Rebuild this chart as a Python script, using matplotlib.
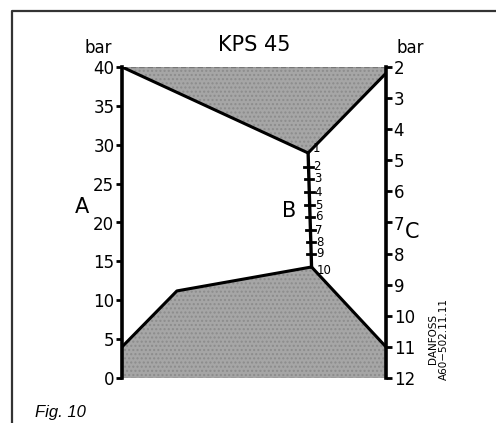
import numpy as np
import matplotlib
matplotlib.use('Agg')
import matplotlib.pyplot as plt
from matplotlib.lines import Line2D

# Scale A (left, bar) and C (right, bar)
a_ticks = [0, 5, 10, 15, 20, 25, 30, 35, 40]
c_ticks = [2, 3, 4, 5, 6, 7, 8, 9, 10, 11, 12]
b_vals = [1, 2, 3, 4, 5, 6, 7, 8, 9, 10]
b_on_a = [28.94, 27.14, 25.60, 23.92, 22.25, 20.71, 19.03, 17.49, 15.95, 14.28]
b_x = [0.705, 0.718]   # horizontal position of B scale (top, bottom), 0 = A, 1 = C

# boundary of the upper shaded zone (x, A-value); last point given on C scale
upper_x = [0.0, 0.705, 1.0]
upper_a = [40.0, 28.94]
upper_c_end = 2.2
# boundary of the lower shaded zone
lower_x = [0.0, 0.208, 0.718, 1.0]
lower_a = [4.0, 11.2, 14.28]
lower_c_end = 11.0


def c_to_a(c):
    return 40 - (c - 2) * 40 / 10


fig = plt.figure(figsize=(4.96, 4.23), dpi=100)
fig.add_artist(Line2D([12/496, 12/496, 1], [0, 1 - 11/423, 1 - 11/423],
                      transform=fig.transFigure, color='#333333', lw=1.6))

ax = fig.add_axes([122/496, 45/423, 264/496, 311/423])
ax.set_xlim(0, 1)
ax.set_ylim(0, 40)
axc = ax.twinx()
axc.set_ylim(12, 2)

gray = '#a6a6a6'
ua = upper_a + [c_to_a(upper_c_end)]
ax.fill(upper_x + [1.0, 0.0], ua + [40, 40], facecolor=gray, edgecolor='#8c8c8c',
        hatch='....', lw=0, zorder=1)
ax.plot(upper_x, ua, color='black', lw=2.2, zorder=3, solid_capstyle='round')

la = lower_a + [c_to_a(lower_c_end)]
ax.fill(lower_x + [1.0, 0.0], la + [0, 0], facecolor=gray, edgecolor='#8c8c8c',
        hatch='....', lw=0, zorder=1)
ax.plot(lower_x, la, color='black', lw=2.2, zorder=3, solid_capstyle='round')

ax.axhline(40, color='#777777', lw=1.0, ls=(0, (4, 2)), zorder=2)
ax.axhline(0, color='#777777', lw=1.0, ls=(0, (4, 2)), zorder=2)

for a in (ax, axc):
    a.spines['top'].set_visible(False)
    a.spines['bottom'].set_visible(False)
    a.set_xticks([])
ax.spines['right'].set_visible(False)
ax.spines['left'].set_linewidth(2.6)
axc.spines['left'].set_visible(False)
axc.spines['right'].set_linewidth(2.6)

ax.set_yticks(a_ticks)
ax.tick_params(axis='y', direction='out', length=4.5, width=2, labelsize=12, pad=1)
axc.set_yticks(c_ticks)
axc.tick_params(axis='y', direction='out', length=4.5, width=2, labelsize=12, pad=1)

# B scale
ax.plot(b_x, [b_on_a[0], b_on_a[-1]], color='black', lw=2.4, zorder=4)
for v, h in zip(b_vals, b_on_a):
    xx = np.interp(h, [b_on_a[-1], b_on_a[0]], [b_x[1], b_x[0]])
    if v not in (1, 10):
        ax.plot([xx - 0.016, xx + 0.016], [h, h], color='black', lw=2, zorder=4)
    dy = 0.6 if v == 1 else (-0.4 if v == 10 else 0)
    ax.text(xx + 0.019, h + dy, str(v), fontsize=8.5, ha='left', va='center', zorder=5)

ax.text(-0.152, 22.0, 'A', fontsize=15, ha='center', va='center')
ax.text(0.633, 21.5, 'B', fontsize=15, ha='center', va='center')
ax.text(1.1, 18.8, 'C', fontsize=15, ha='center', va='center')
ax.text(-0.09, 41.3, 'bar', fontsize=12, ha='center', va='bottom')
ax.text(1.09, 41.3, 'bar', fontsize=12, ha='center', va='bottom')
ax.text(0.5, 41.6, 'KPS 45', fontsize=15, ha='center', va='bottom')
ax.text(1.2, -0.2, 'DANFOSS\nA60\u2212502.11.11', fontsize=7.5, rotation=90,
        ha='center', va='bottom', linespacing=1.1)
fig.text(35/496, 1 - 412/423, 'Fig. 10', fontsize=12, style='italic',
         family='Liberation Sans', ha='left', va='center')

fig.savefig('out.png', dpi=100)
